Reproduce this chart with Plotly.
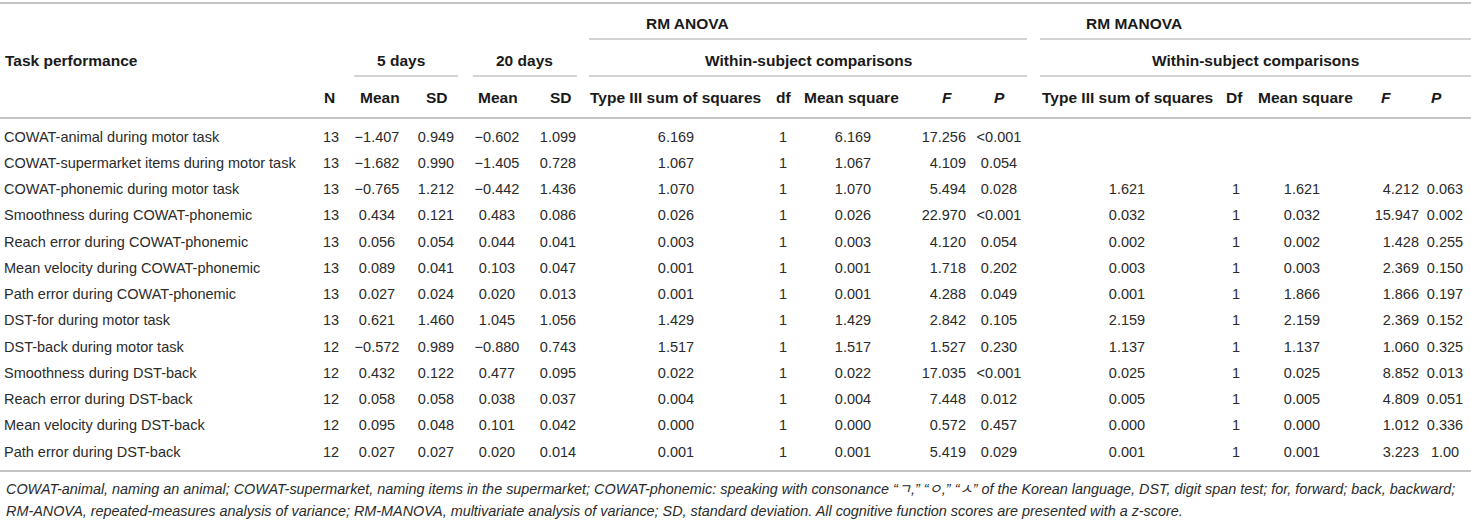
import plotly.graph_objects as go

# ---- table data ----
tasks = [
    "COWAT-animal during motor task",
    "COWAT-supermarket items during motor task",
    "COWAT-phonemic during motor task",
    "Smoothness during COWAT-phonemic",
    "Reach error during COWAT-phonemic",
    "Mean velocity during COWAT-phonemic",
    "Path error during COWAT-phonemic",
    "DST-for during motor task",
    "DST-back during motor task",
    "Smoothness during DST-back",
    "Reach error during DST-back",
    "Mean velocity during DST-back",
    "Path error during DST-back",
]
n = ["13", "13", "13", "13", "13", "13", "13", "13", "12", "12", "12", "12", "12"]
mean_5 = ["\u22121.407", "\u22121.682", "\u22120.765", "0.434", "0.056", "0.089", "0.027",
          "0.621", "\u22120.572", "0.432", "0.058", "0.095", "0.027"]
sd_5 = ["0.949", "0.990", "1.212", "0.121", "0.054", "0.041", "0.024",
        "1.460", "0.989", "0.122", "0.058", "0.048", "0.027"]
mean_20 = ["\u22120.602", "\u22121.405", "\u22120.442", "0.483", "0.044", "0.103", "0.020",
           "1.045", "\u22120.880", "0.477", "0.038", "0.101", "0.020"]
sd_20 = ["1.099", "0.728", "1.436", "0.086", "0.041", "0.047", "0.013",
         "1.056", "0.743", "0.095", "0.037", "0.042", "0.014"]

anova_ss = ["6.169", "1.067", "1.070", "0.026", "0.003", "0.001", "0.001",
            "1.429", "1.517", "0.022", "0.004", "0.000", "0.001"]
anova_df = ["1"] * 13
anova_ms = ["6.169", "1.067", "1.070", "0.026", "0.003", "0.001", "0.001",
            "1.429", "1.517", "0.022", "0.004", "0.000", "0.001"]
anova_f = ["17.256", "4.109", "5.494", "22.970", "4.120", "1.718", "4.288",
           "2.842", "1.527", "17.035", "7.448", "0.572", "5.419"]
anova_p = ["<0.001", "0.054", "0.028", "<0.001", "0.054", "0.202", "0.049",
           "0.105", "0.230", "<0.001", "0.012", "0.457", "0.029"]

manova_ss = ["", "", "1.621", "0.032", "0.002", "0.003", "0.001",
             "2.159", "1.137", "0.025", "0.005", "0.000", "0.001"]
manova_df = ["", "", "1", "1", "1", "1", "1", "1", "1", "1", "1", "1", "1"]
manova_ms = ["", "", "1.621", "0.032", "0.002", "0.003", "1.866",
             "2.159", "1.137", "0.025", "0.005", "0.000", "0.001"]
manova_f = ["", "", "4.212", "15.947", "1.428", "2.369", "1.866",
            "2.369", "1.060", "8.852", "4.809", "1.012", "3.223"]
manova_p = ["", "", "0.063", "0.002", "0.255", "0.150", "0.197",
            "0.152", "0.325", "0.013", "0.051", "0.336", "1.00"]

footnote_1 = ("COWAT-animal, naming an animal; COWAT-supermarket, naming items in the supermarket; "
              "COWAT-phonemic: speaking with consonance \u201c\u3131,\u201d \u201c\u3147,\u201d \u201c\u3145\u201d "
              "of the Korean language, DST, digit span test; for, forward; back, backward;")
footnote_2 = ("RM-ANOVA, repeated-measures analysis of variance; RM-MANOVA, multivariate analysis of "
              "variance; SD, standard deviation. All cognitive function scores are presented with a z-score.")

# ---- layout constants (pixels) ----
W, H = 1471, 525
FONT = "Liberation Sans, Arial, Noto Sans CJK KR"
TXT = "#2b2b2b"
LINE = "#c4c4c4"
ROW0, PITCH = 138, 26.25

# column: (values, x, textposition)
columns = [
    (tasks, 4, "middle right"),
    (n, 331, "middle center"),
    (mean_5, 377, "middle center"),
    (sd_5, 436, "middle center"),
    (mean_20, 497, "middle center"),
    (sd_20, 558, "middle center"),
    (anova_ss, 676, "middle center"),
    (anova_df, 783, "middle center"),
    (anova_ms, 853, "middle center"),
    (anova_f, 966, "middle left"),
    (anova_p, 999, "middle center"),
    (manova_ss, 1127, "middle center"),
    (manova_df, 1236, "middle center"),
    (manova_ms, 1302, "middle center"),
    (manova_f, 1419, "middle left"),
    (manova_p, 1445, "middle center"),
]


def py(pixel_y):
    return 1 - pixel_y / H


fig = go.Figure()
rows = list(range(len(tasks)))
for values, x, pos in columns:
    fig.add_trace(go.Scatter(
        x=[x] * len(values), y=rows, text=values, mode="text",
        textposition=pos, textfont=dict(family=FONT, size=14.5, color=TXT),
        hoverinfo="skip", showlegend=False,
    ))

# header texts: (text, x, y, xanchor)
headers = [
    ("RM ANOVA", 687, 23, "center"),
    ("RM MANOVA", 1134, 23, "center"),
    ("Task performance", 3, 60, "left"),
    ("5 days", 401, 60, "center"),
    ("20 days", 524, 60, "center"),
    ("Within-subject comparisons", 809, 60, "center"),
    ("Within-subject comparisons", 1255, 60, "center"),
    ("N", 329, 97, "center"),
    ("Mean", 380, 97, "center"),
    ("SD", 437, 97, "center"),
    ("Mean", 498, 97, "center"),
    ("SD", 561, 97, "center"),
    ("Type III sum of squares", 675, 97, "center"),
    ("df", 783, 97, "center"),
    ("Mean square", 852, 97, "center"),
    ("<i>F</i>", 947, 97, "center"),
    ("<i>P</i>", 1000, 97, "center"),
    ("Type III sum of squares", 1127, 97, "center"),
    ("Df", 1234, 97, "center"),
    ("Mean square", 1305, 97, "center"),
    ("<i>F</i>", 1386, 97, "center"),
    ("<i>P</i>", 1436, 97, "center"),
]
for text, x, y, xa in headers:
    fig.add_annotation(
        text="<b>" + text + "</b>", x=x / W, y=py(y), xref="paper", yref="paper",
        xanchor=xa, yanchor="middle", showarrow=False,
        font=dict(family=FONT, size=15.5, color="#1a1a1a"),
    )

for i, note in enumerate([footnote_1, footnote_2]):
    fig.add_annotation(
        text="<i>" + note + "</i>", x=4 / W, y=py(489 + 22 * i), xref="paper", yref="paper",
        xanchor="left", yanchor="middle", showarrow=False,
        font=dict(family=FONT, size=14.4, color=TXT),
    )

# rules: (x0, x1, y, width)
rules = [
    (0, W, 3, 2),
    (589, 1027, 39, 1.5),
    (1040, W, 39, 1.5),
    (354, 458, 76, 1.5),
    (473, 577, 76, 1.5),
    (589, 1027, 76, 1.5),
    (1040, W, 76, 1.5),
    (0, W, 118, 2),
    (0, W, 471, 2),
]
for x0, x1, y, w in rules:
    fig.add_shape(type="line", xref="paper", yref="paper",
                  x0=x0 / W, x1=x1 / W, y0=py(y), y1=py(y),
                  line=dict(color=LINE, width=w))

fig.update_xaxes(range=[0, W], visible=False, fixedrange=True)
fig.update_yaxes(range=[(H - ROW0) / PITCH, -ROW0 / PITCH], visible=False, fixedrange=True)
fig.update_layout(
    width=W, height=H, margin=dict(l=0, r=0, t=0, b=0),
    paper_bgcolor="white", plot_bgcolor="white",
)

# drop the browser's default 8px body margin so the table sits at the page corner
fig.write_html("out.html", config={"displayModeBar": False},
               post_script="document.body.style.margin='0';document.body.style.overflow='hidden';")
